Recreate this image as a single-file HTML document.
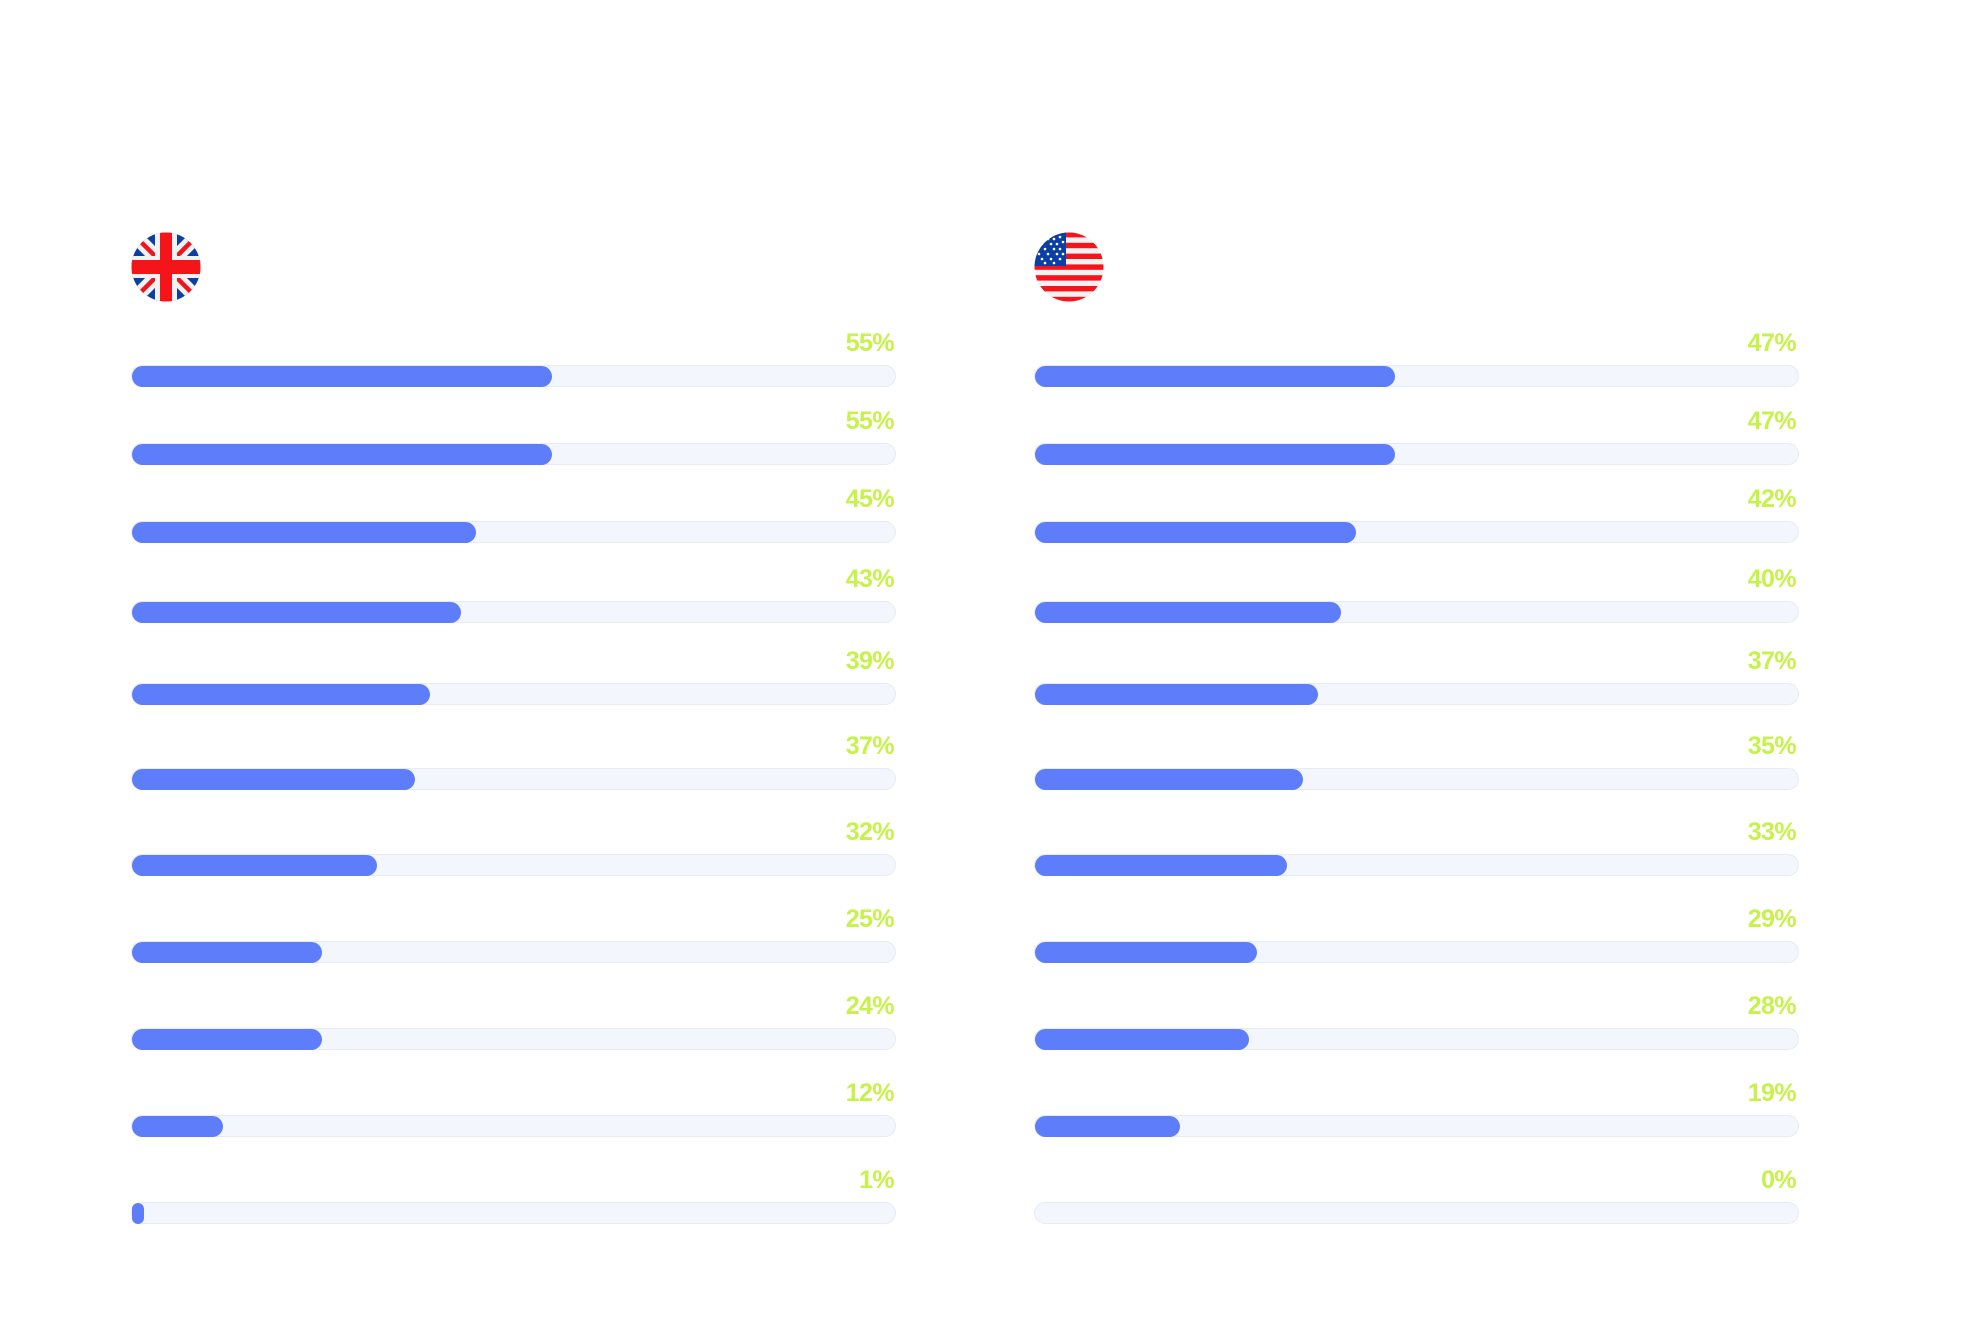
<!DOCTYPE html>
<html>
<head>
<meta charset="utf-8">
<style>
  html,body{margin:0;padding:0;background:#ffffff;}
  body{width:1965px;height:1324px;position:relative;overflow:hidden;font-family:"Liberation Sans",Arial,sans-serif;}
  .track{position:absolute;height:20px;border:1px solid #e6ebf6;background:#f3f6fc;border-radius:11px;box-sizing:content-box;}
  .fill{position:absolute;height:21px;background:#5d7dfb;border-radius:11px;}
  .lbl{position:absolute;font-weight:bold;font-size:25px;color:#c7f14b;letter-spacing:-0.6px;line-height:25px;text-align:right;width:100px;}
  .flag{position:absolute;}
</style>
</head>
<body>

<!-- UK flag -->
<svg class="flag" style="left:131px;top:232px" width="70" height="70" viewBox="0 0 70 70">
  <defs><clipPath id="c1"><circle cx="35" cy="35" r="34.5"/></clipPath></defs>
  <g clip-path="url(#c1)">
    <rect width="70" height="70" fill="#0b3fa6"/>
    <line x1="0" y1="0" x2="70" y2="70" stroke="#f2f2f2" stroke-width="14"/>
    <line x1="70" y1="0" x2="0" y2="70" stroke="#f2f2f2" stroke-width="14"/>
    <line x1="0" y1="0" x2="70" y2="70" stroke="#f0141e" stroke-width="4.5"/>
    <line x1="70" y1="0" x2="0" y2="70" stroke="#f0141e" stroke-width="4.5"/>
    <rect x="24" y="0" width="22" height="70" fill="#f2f2f2"/>
    <rect x="0" y="24" width="70" height="22" fill="#f2f2f2"/>
    <rect x="29" y="0" width="12" height="70" fill="#f5141a"/>
    <rect x="0" y="28" width="70" height="14" fill="#f5141a"/>
  </g>
</svg>

<!-- US flag -->
<svg class="flag" style="left:1034px;top:232px" width="70" height="70" viewBox="0 0 70 70">
  <defs><clipPath id="c2"><circle cx="35" cy="35" r="34.5"/></clipPath></defs>
  <g clip-path="url(#c2)">
    <rect width="70" height="70" fill="#f2f2f2"/>
    <rect x="0" y="0" width="70" height="5.4" fill="#f5141a"/>
    <rect x="0" y="10.8" width="70" height="5.4" fill="#f5141a"/>
    <rect x="0" y="21.6" width="70" height="5.4" fill="#f5141a"/>
    <rect x="0" y="32.4" width="70" height="5.4" fill="#f5141a"/>
    <rect x="0" y="43.2" width="70" height="5.4" fill="#f5141a"/>
    <rect x="0" y="54" width="70" height="5.4" fill="#f5141a"/>
    <rect x="0" y="64.8" width="70" height="5.4" fill="#f5141a"/>
    <rect x="0" y="0" width="32" height="34" fill="#0b3fa6"/>
    <g fill="#ffffff">
      <circle cx="8" cy="12" r="1.3"/><circle cx="14" cy="7" r="1.3"/><circle cx="20" cy="7" r="1.3"/><circle cx="26" cy="5" r="1.3"/>
      <circle cx="11" cy="17" r="1.3"/><circle cx="17" cy="12" r="1.3"/><circle cx="23" cy="12" r="1.3"/><circle cx="29" cy="10" r="1.3"/>
      <circle cx="5" cy="22" r="1.3"/><circle cx="14" cy="22" r="1.3"/><circle cx="20" cy="17" r="1.3"/><circle cx="26" cy="17" r="1.3"/>
      <circle cx="8" cy="27" r="1.3"/><circle cx="17" cy="27" r="1.3"/><circle cx="23" cy="22" r="1.3"/><circle cx="29" cy="22" r="1.3"/>
      <circle cx="11" cy="31" r="1.3"/><circle cx="20" cy="31" r="1.3"/><circle cx="26" cy="27" r="1.3"/>
    </g>
  </g>
</svg>

<!-- LEFT PANEL -->
<div class="track" style="left:131px;top:365px;width:763px"></div><div class="fill" style="left:132px;top:366px;width:420px"></div><div class="lbl" style="left:794px;top:331px">55%</div>
<div class="track" style="left:131px;top:443px;width:763px"></div><div class="fill" style="left:132px;top:444px;width:420px"></div><div class="lbl" style="left:794px;top:409px">55%</div>
<div class="track" style="left:131px;top:521px;width:763px"></div><div class="fill" style="left:132px;top:522px;width:344px"></div><div class="lbl" style="left:794px;top:487px">45%</div>
<div class="track" style="left:131px;top:601px;width:763px"></div><div class="fill" style="left:132px;top:602px;width:329px"></div><div class="lbl" style="left:794px;top:567px">43%</div>
<div class="track" style="left:131px;top:683px;width:763px"></div><div class="fill" style="left:132px;top:684px;width:298px"></div><div class="lbl" style="left:794px;top:649px">39%</div>
<div class="track" style="left:131px;top:768px;width:763px"></div><div class="fill" style="left:132px;top:769px;width:283px"></div><div class="lbl" style="left:794px;top:734px">37%</div>
<div class="track" style="left:131px;top:854px;width:763px"></div><div class="fill" style="left:132px;top:855px;width:245px"></div><div class="lbl" style="left:794px;top:820px">32%</div>
<div class="track" style="left:131px;top:941px;width:763px"></div><div class="fill" style="left:132px;top:942px;width:190px"></div><div class="lbl" style="left:794px;top:907px">25%</div>
<div class="track" style="left:131px;top:1028px;width:763px"></div><div class="fill" style="left:132px;top:1029px;width:190px"></div><div class="lbl" style="left:794px;top:994px">24%</div>
<div class="track" style="left:131px;top:1115px;width:763px"></div><div class="fill" style="left:132px;top:1116px;width:91px"></div><div class="lbl" style="left:794px;top:1081px">12%</div>
<div class="track" style="left:131px;top:1202px;width:763px"></div><div class="fill" style="left:132px;top:1203px;width:12px"></div><div class="lbl" style="left:794px;top:1168px">1%</div>

<!-- RIGHT PANEL -->
<div class="track" style="left:1034px;top:365px;width:763px"></div><div class="fill" style="left:1035px;top:366px;width:360px"></div><div class="lbl" style="left:1696px;top:331px">47%</div>
<div class="track" style="left:1034px;top:443px;width:763px"></div><div class="fill" style="left:1035px;top:444px;width:360px"></div><div class="lbl" style="left:1696px;top:409px">47%</div>
<div class="track" style="left:1034px;top:521px;width:763px"></div><div class="fill" style="left:1035px;top:522px;width:321px"></div><div class="lbl" style="left:1696px;top:487px">42%</div>
<div class="track" style="left:1034px;top:601px;width:763px"></div><div class="fill" style="left:1035px;top:602px;width:306px"></div><div class="lbl" style="left:1696px;top:567px">40%</div>
<div class="track" style="left:1034px;top:683px;width:763px"></div><div class="fill" style="left:1035px;top:684px;width:283px"></div><div class="lbl" style="left:1696px;top:649px">37%</div>
<div class="track" style="left:1034px;top:768px;width:763px"></div><div class="fill" style="left:1035px;top:769px;width:268px"></div><div class="lbl" style="left:1696px;top:734px">35%</div>
<div class="track" style="left:1034px;top:854px;width:763px"></div><div class="fill" style="left:1035px;top:855px;width:252px"></div><div class="lbl" style="left:1696px;top:820px">33%</div>
<div class="track" style="left:1034px;top:941px;width:763px"></div><div class="fill" style="left:1035px;top:942px;width:222px"></div><div class="lbl" style="left:1696px;top:907px">29%</div>
<div class="track" style="left:1034px;top:1028px;width:763px"></div><div class="fill" style="left:1035px;top:1029px;width:214px"></div><div class="lbl" style="left:1696px;top:994px">28%</div>
<div class="track" style="left:1034px;top:1115px;width:763px"></div><div class="fill" style="left:1035px;top:1116px;width:145px"></div><div class="lbl" style="left:1696px;top:1081px">19%</div>
<div class="track" style="left:1034px;top:1202px;width:763px"></div><div class="lbl" style="left:1696px;top:1168px">0%</div>

</body>
</html>
